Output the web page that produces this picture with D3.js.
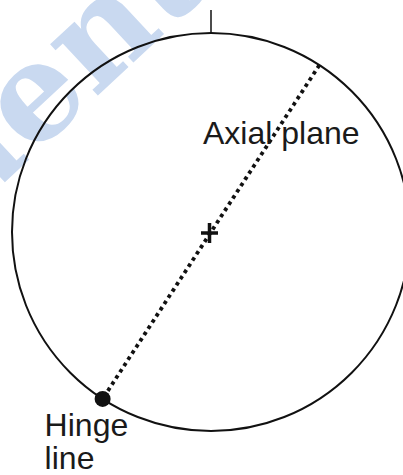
<!DOCTYPE html>
<html>
<head>
<meta charset="utf-8">
<script src="https://cdn.jsdelivr.net/npm/d3@7"></script>
<style>
  html, body { margin: 0; padding: 0; background: #fff; }
  svg { display: block; }
</style>
</head>
<body>
<div id="net"></div>
<script>
// stereonet data (trend / strike in degrees clockwise from north)
var axialStrike = [33];
var axialDip = [90];
var hingeTrend = [213];
var hingePlunge = [0];
var planeLabel = ["Axial plane"];
var hingeLabel = ["Hinge", "line"];
var watermark = ["StudentBounty.com"];

var width = 403, height = 475;
var cx = 211, cy = 232, R = 199;

var svg = d3.select("#net")
    .append("svg")
    .attr("width", width)
    .attr("height", height)

// equal-area radius: 0 at centre, 1 on primitive
var rScale = d3.scaleLinear()
    .domain([0, 1])
    .range([0, R])

var rad = Math.PI / 180

var project = function(trend, plunge){
    var r = rScale(Math.SQRT2 * Math.sin((90 - plunge) / 2 * rad))
    return [cx + r * Math.sin(trend * rad), cy - r * Math.cos(trend * rad)]
}

// points along a great circle (plane given by strike/dip, right hand rule)
var greatCircle = function(strike, dip){
    var s = strike * rad, d = dip * rad
    var sv = [Math.sin(s), Math.cos(s), 0]
    var dv = [Math.sin(s + Math.PI / 2) * Math.cos(d), Math.cos(s + Math.PI / 2) * Math.cos(d), Math.sin(d)]
    return d3.range(0, 180.5, 1).map(function(a){
        var e = Math.cos(a * rad) * sv[0] + Math.sin(a * rad) * dv[0]
        var n = Math.cos(a * rad) * sv[1] + Math.sin(a * rad) * dv[1]
        var z = Math.cos(a * rad) * sv[2] + Math.sin(a * rad) * dv[2]
        var tr = Math.atan2(e, n) / rad
        var pl = Math.asin(Math.max(-1, Math.min(1, z))) / rad
        return project(tr, pl)
    })
}

// watermark, rotated; the "e" is pinned at its spot
var wmG = svg.append("g")
    .attr("transform", "translate(63,128) rotate(-43)")
var wm = wmG.append("text")
    .attr("font-family", "DejaVu Serif, serif")
    .attr("font-weight", "bold")
    .attr("font-size", 135)
    .attr("fill", "#c9d9f0")
    .text(watermark[0])
var ext = wm.node().getExtentOfChar(4)
wm.attr("x", -(ext.x + ext.width / 2))

// primitive circle
svg.append("circle")
    .attr("cx", cx)
    .attr("cy", cy)
    .attr("r", rScale(1))
    .attr("fill", "none")
    .attr("stroke", "#111")
    .attr("stroke-width", 2)

// north tick
svg.append("line")
    .attr("x1", cx).attr("x2", cx)
    .attr("y1", cy - rScale(1)).attr("y2", cy - rScale(1) - 23)
    .attr("stroke", "#111")
    .attr("stroke-width", 1.5)

// axial plane (dotted)
var line = d3.line()
axialStrike.forEach(function(s, i){
    svg.append("path")
        .attr("d", line(greatCircle(s, axialDip[i])))
        .attr("fill", "none")
        .attr("stroke", "#111")
        .attr("stroke-width", 3.8)
        .attr("stroke-dasharray", "3.6,3.8")
})

// centre cross
svg.append("path")
    .attr("d", "M" + (cx - 10) + "," + (cy + 1) + "H" + (cx + 7) + "M" + (cx - 1.5) + "," + (cy - 9) + "V" + (cy + 11))
    .attr("stroke", "#111")
    .attr("stroke-width", 3.5)

// hinge line point
hingeTrend.forEach(function(t, i){
    var p = project(t, hingePlunge[i])
    svg.append("circle")
        .attr("cx", p[0])
        .attr("cy", p[1])
        .attr("r", 8)
        .attr("fill", "#111")

    svg.selectAll(null)
        .data(hingeLabel)
        .enter()
        .append("text")
        .attr("x", p[0] - 58)
        .attr("y", function(d, j){ return p[1] + 37 + j * 33 })
        .attr("font-family", "Liberation Sans, Arial, sans-serif")
        .attr("font-size", 32)
        .attr("fill", "#1a1a1a")
        .text(function(d){ return d })
})

// axial plane label
svg.append("text")
    .attr("x", 203)
    .attr("y", 144)
    .attr("font-family", "Liberation Sans, Arial, sans-serif")
    .attr("font-size", 32)
    .attr("fill", "#1a1a1a")
    .text(planeLabel[0])
</script>
</body>
</html>
